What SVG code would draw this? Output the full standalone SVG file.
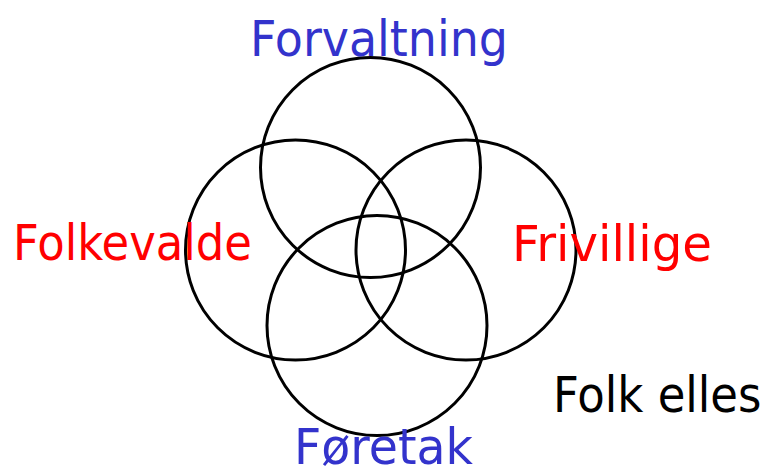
<svg xmlns="http://www.w3.org/2000/svg" width="772" height="468" viewBox="0 0 772 468">
<style>
.c{fill:none;stroke:#000;stroke-width:3}
.t{font-family:"Comic Sans MS","DejaVu Sans",sans-serif;font-size:50px}
.b{fill:#3333cc}
.r{fill:#ff0000}
.k{fill:#000}
</style>
<rect width="772" height="468" fill="#fff"/>
<g id="forvaltning"><circle class="c" cx="370.5" cy="167.5" r="110"/><text class="t b" x="250" y="56" textLength="258" lengthAdjust="spacingAndGlyphs">Forvaltning</text></g>
<g id="folkevalde"><circle class="c" cx="295.5" cy="250" r="110"/><text class="t r" x="13" y="260" textLength="239" lengthAdjust="spacingAndGlyphs">Folkevalde</text></g>
<g id="frivillige"><circle class="c" cx="466" cy="250" r="110"/><text class="t r" x="512" y="261" textLength="200" lengthAdjust="spacingAndGlyphs">Frivillige</text></g>
<g id="foretak"><circle class="c" cx="377" cy="325.5" r="110"/><text class="t b" x="294" y="464" textLength="179" lengthAdjust="spacingAndGlyphs">Føretak</text></g>
<g id="folkelles"><text class="t k" transform="translate(553,412) scale(0.9,1)">Folk elles</text></g>
<g id="connectors"></g>
</svg>
